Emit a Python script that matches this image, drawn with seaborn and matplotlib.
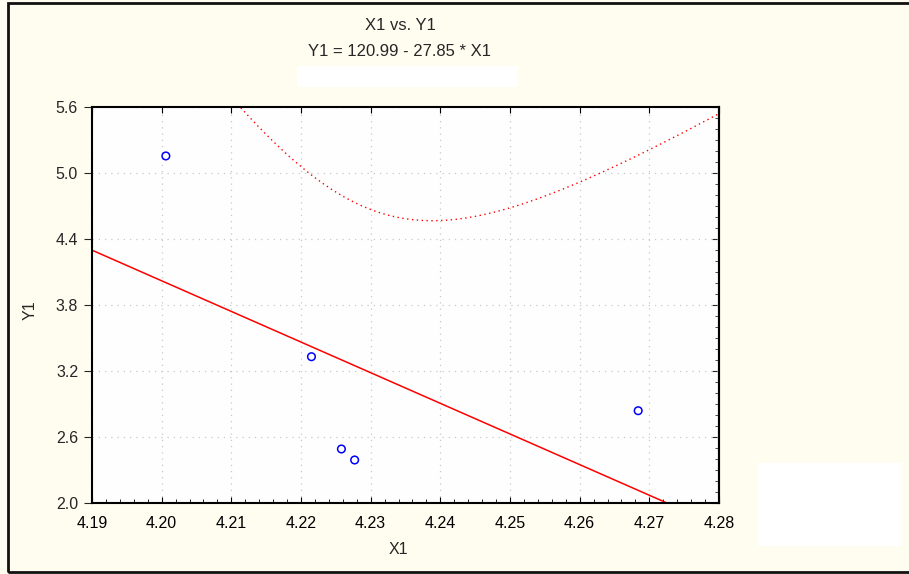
import numpy as np
import pandas as pd
import matplotlib
matplotlib.use("Agg")
import matplotlib.pyplot as plt
from matplotlib.patches import Rectangle
from matplotlib.ticker import MultipleLocator
import seaborn as sns

# --- DATA ---
x1 = [4.2006, 4.2215, 4.2258, 4.2277, 4.2684]
y1 = [5.155, 3.33, 2.491, 2.391, 2.839]
intercept = 120.99
slope = -27.85
x_ticks = [4.19, 4.20, 4.21, 4.22, 4.23, 4.24, 4.25, 4.26, 4.27, 4.28]
y_ticks = [2.0, 2.6, 3.2, 3.8, 4.4, 5.0, 5.6]
t_crit = 3.182  # t(0.975, df=3)
# -----------------------------------

BG = "#fffcf0"
RED = "#ff0000"
BLUE = "#0000ff"

sns.set_style("ticks")
plt.rcParams["font.family"] = ["Liberation Sans", "DejaVu Sans"]

df = pd.DataFrame({"X1": x1, "Y1": y1})

# regression line and 95% confidence band for the mean
xs = np.linspace(x_ticks[0], x_ticks[-1], 300)
x_arr = np.array(x1)
y_arr = np.array(y1)
fit = intercept + slope * xs
resid = y_arr - (intercept + slope * x_arr)
s = np.sqrt(np.sum(resid ** 2) / (len(x1) - 2))
sxx = np.sum((x_arr - x_arr.mean()) ** 2)
hw = t_crit * s * np.sqrt(1 / len(x1) + (xs - x_arr.mean()) ** 2 / sxx)
line_df = pd.DataFrame({"x": xs, "fit": fit, "upper": fit + hw, "lower": fit - hw})

fig = plt.figure(figsize=(9.09, 5.74), dpi=100, facecolor=BG)
ax = fig.add_axes([92 / 909, 71 / 574, 627 / 909, 396 / 574])
ax.set_facecolor("#fefefe")

sns.lineplot(data=line_df, x="x", y="fit", color=RED, lw=1.1, ax=ax, sort=False)
sns.lineplot(data=line_df, x="x", y="upper", color=RED, lw=1.0,
             linestyle=(0, (1, 2.5)), ax=ax, sort=False)
sns.lineplot(data=line_df, x="x", y="lower", color=RED, lw=1.0,
             linestyle=(0, (1, 2.5)), ax=ax, sort=False)
sns.scatterplot(data=df, x="X1", y="Y1", marker="o", s=30, facecolors="none",
                edgecolor=BLUE, linewidth=1.1, ax=ax, zorder=5)

ax.set_xlim(x_ticks[0], x_ticks[-1])
ax.set_ylim(y_ticks[0], y_ticks[-1])
ax.set_xticks(x_ticks)
ax.set_yticks(y_ticks)
ax.set_xticklabels([f"{v:.2f}" for v in x_ticks])
ax.set_yticklabels([f"{v:.1f}" for v in y_ticks])
ax.xaxis.set_minor_locator(MultipleLocator(0.002))
ax.grid(True, which="major", color="#c8c8c8", linestyle=(0, (1, 4)), lw=0.9)
ax.set_xlabel("")
ax.set_ylabel("")

for sp in ax.spines.values():
    sp.set_visible(True)
    sp.set_color("black")
    sp.set_linewidth(1.5)

ax.tick_params(axis="x", which="both", direction="in", top=True, bottom=True,
               labelsize=11.5, pad=9, colors="black")
ax.tick_params(axis="x", which="major", length=4)
ax.tick_params(axis="x", which="minor", length=3, top=False)
ax.tick_params(axis="y", which="major", direction="out", length=6, left=True,
               right=False, labelsize=11.5, pad=4)

sec = ax.secondary_yaxis("right")
sec.set_yticks(y_ticks)
sec.yaxis.set_minor_locator(MultipleLocator(0.1))
sec.tick_params(which="both", direction="in", labelright=False)
sec.tick_params(which="major", length=5)
sec.tick_params(which="minor", length=3)
sec.spines["right"].set_linewidth(1.5)

# titles and axis labels
fig.text(400 / 909, 1 - 25 / 574, "X1 vs. Y1", ha="center", va="center", fontsize=12)
fig.text(400 / 909, 1 - 52 / 574, "Y1 = 120.99 - 27.85 * X1", ha="center",
         va="center", fontsize=12)
fig.text(398 / 909, 1 - 550 / 574, "X1", ha="center", va="center", fontsize=11.5)
fig.text(30 / 909, 1 - 310 / 574, "Y1", ha="center", va="center", fontsize=11.5,
         rotation=90)

# blank white boxes and outer frame
fig.patches.append(Rectangle((297 / 909, 1 - 87 / 574), 221 / 909, 21 / 574,
                             transform=fig.transFigure, facecolor="white",
                             edgecolor="none"))
fig.patches.append(Rectangle((758 / 909, 1 - 546 / 574), 144 / 909, 83 / 574,
                             transform=fig.transFigure, facecolor="white",
                             edgecolor="none"))
fig.patches.append(Rectangle((8 / 909, 2 / 574), 1.1, 1 - 5 / 574,
                             transform=fig.transFigure, fill=False,
                             edgecolor="#111111", lw=2))

fig.savefig("out.png", dpi=100, facecolor=BG)
